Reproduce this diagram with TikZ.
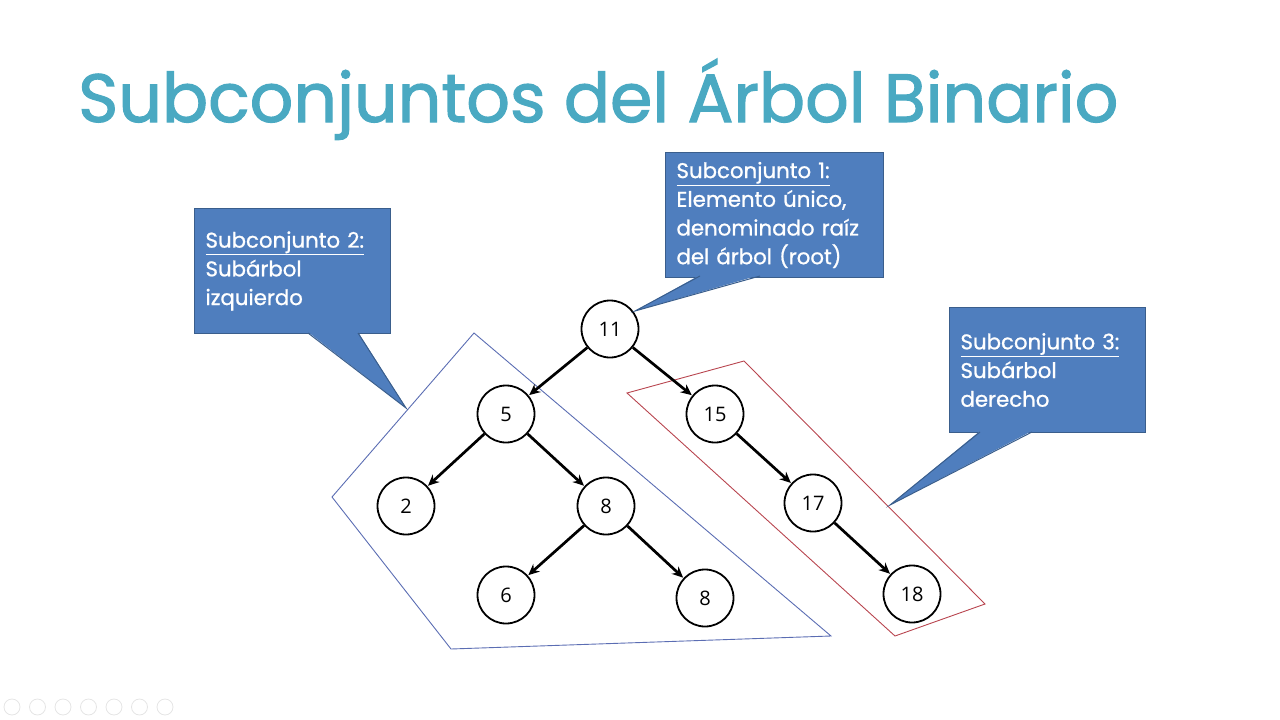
\documentclass[tikz,border=0pt]{standalone}
\usepackage{fontspec}
\setmainfont{Poppins}[FakeBold=0.9]
\newfontfamily\headfont{Poppins}[FakeBold=1.6]
\newfontfamily\keyfont{Open Sans}
\usetikzlibrary{arrows.meta}
\definecolor{titleblue}{HTML}{4AA9C2}
\definecolor{callfill}{HTML}{4F7EBE}
\definecolor{callline}{HTML}{3A5E8C}
\definecolor{leftset}{HTML}{5B6DB3}
\definecolor{rightset}{HTML}{B8454F}

\begin{document}
\begin{tikzpicture}[x=1pt,y=-1pt,
  treenode/.style={circle,draw=black,line width=1.8pt,fill=white,minimum size=57pt,inner sep=0pt,font=\keyfont\fontsize{20}{22}\selectfont},
  edge/.style={line width=2.7pt,-{Stealth[length=11pt,width=10pt]},shorten >=0.5pt},
  callbox/.style={rectangle,fill=callfill,draw=callline,line width=1pt,anchor=north west,
    text=white,align=left,inner xsep=11pt,minimum height=125pt,font=\fontsize{21.3}{28.7}\selectfont},
  tail/.style={fill=callfill},
  tailline/.style={draw=callline,line width=1pt}]
\useasboundingbox (0,0) rectangle (1280,720);

% title
\node[anchor=base west,inner sep=0pt,text=titleblue,font=\headfont\fontsize{68.3}{70}\selectfont] (title) at (78,122) {Subconjuntos del Árbol Binario};

% subsets
\draw[leftset,line width=0.9pt] (474,333) -- (332,497) -- (451,649) -- (831,636) -- cycle;
\draw[rightset,line width=0.9pt] (627,393) -- (744,361) -- (985,604) -- (895,636) -- cycle;

% tree
\foreach \n/\x/\y/\v in {n11/610/329/11, n5/506/414/5, n15/715/414/15, n2/406/506/2,
  n8/606/506/8, n17/813/503/17, n6/506/595/6, n8b/705/598/8, n18/912/594/18}
  \node[treenode] (\n) at (\x,\y) {\v};
\foreach \a/\b in {n11/n5, n11/n15, n5/n2, n5/n8, n8/n6, n8/n8b, n15/n17, n17/n18}
  \draw[edge] (\a) -- (\b);

% callouts
\node[callbox,text width=174pt] (sub2) at (194,208) {\underline{Subconjunto 2:}\\Subárbol\\izquierdo};
\coordinate (tip2) at (406,408);
\fill[tail] (308,332) -- (tip2) -- (358,332) -- cycle;
\draw[tailline] (308,333) -- (tip2) -- (358,333);

\node[callbox,text width=196pt] (sub1) at (665,152) {\underline{Subconjunto 1:}\\Elemento único,\\denominado raíz\\del árbol (root)};
\coordinate (tip1) at (635,311);
\fill[tail] (700,275) -- (tip1) -- (760,275) -- cycle;
\draw[tailline] (700,276) -- (tip1) -- (760,276);

\node[callbox,text width=174pt] (sub3) at (949,307) {\underline{Subconjunto 3:}\\Subárbol\\derecho};
\coordinate (tip3) at (890,505);
\fill[tail] (980,431) -- (tip3) -- (1032,431) -- cycle;
\draw[tailline] (980,432) -- (tip3) -- (1032,432);

% toolbar
\foreach \i in {0,...,6}
  \draw[gray!20,line width=0.8pt] ({12+25.5*\i},707) circle (8);
\end{tikzpicture}
\end{document}
